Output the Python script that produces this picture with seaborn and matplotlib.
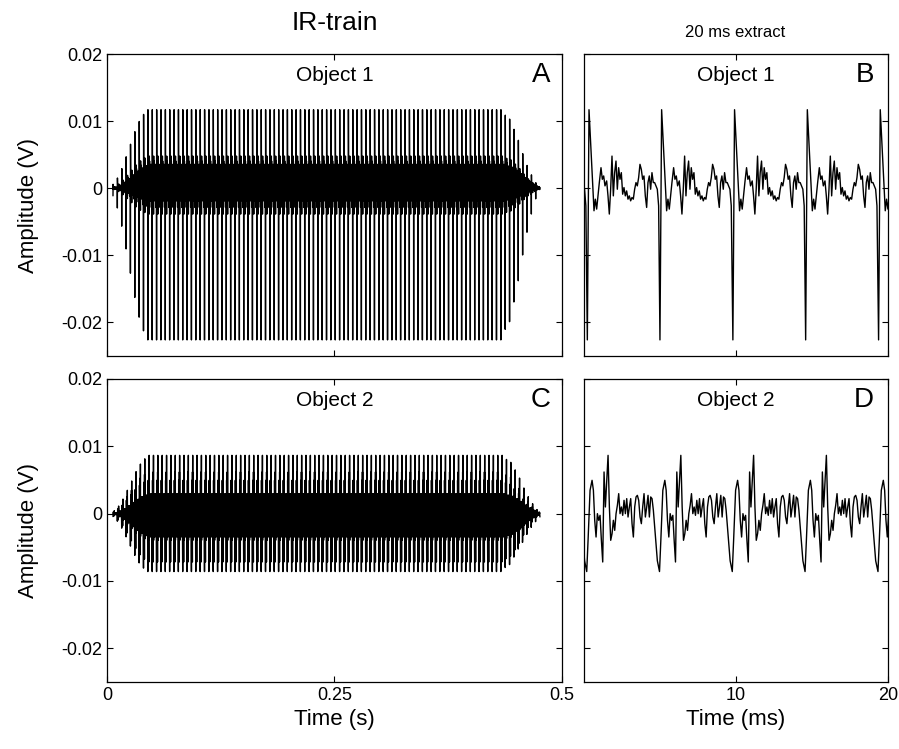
import matplotlib
matplotlib.use('Agg')
import matplotlib.pyplot as plt
import seaborn as sns
import numpy as np
import pandas as pd

# One period of each echo (ms after the negative spike / dip, amplitude in mV),
# read off the 20 ms extracts
obj1_dt_ms = [0.0, 0.11, 0.307, 0.439, 0.526, 0.614, 0.702, 0.789, 0.899, 0.987,
              1.075, 1.162, 1.272, 1.360, 1.447, 1.535, 1.623, 1.711, 1.798, 1.886,
              1.974, 2.061, 2.149, 2.237, 2.325, 2.412, 2.500, 2.588, 2.675, 2.763,
              2.851, 2.939, 3.026, 3.114, 3.202, 3.289, 3.377, 3.465, 3.553, 3.640,
              3.728, 3.816, 3.904, 3.991, 4.079, 4.167, 4.254, 4.342, 4.430, 4.518,
              4.605, 4.693]
obj1_mv = [-22.6, 11.7, 2.81, -3.36, -1.63, -3.11, -1.14, 0.84, 3.06, 1.33,
           1.83, 0.35, 1.09, -1.14, -3.85, -0.15, 4.79, -1.14, 2.32, 4.05,
           -0.15, 3.06, 1.33, 2.32, -0.89, 0.10, -1.14, -0.40, -1.63, -1.14,
           -1.88, -1.38, -1.63, -0.15, 0.84, 0.35, 1.58, 3.56, 2.81, 1.33,
           1.83, -1.14, -2.86, 0.84, 1.83, -0.15, 2.32, 0.84, 0.84, 0.35,
           -0.15, -2.62]

obj2_dt_ms = [0.0, 0.088, 0.219, 0.351, 0.439, 0.526, 0.614, 0.702, 0.789, 0.877,
              0.965, 1.053, 1.140, 1.228, 1.316, 1.404, 1.491, 1.579, 1.667, 1.754,
              1.842, 1.930, 2.018, 2.105, 2.193, 2.281, 2.368, 2.456, 2.544, 2.632,
              2.719, 2.807, 2.895, 2.982, 3.070, 3.158, 3.246, 3.333, 3.421, 3.509,
              3.596, 3.684, 3.772, 3.860, 3.947, 4.035, 4.123, 4.211, 4.298, 4.386,
              4.474, 4.561, 4.649]
obj2_mv = [-8.6, -3.96, 3.47, 4.95, 3.47, -0.99, -3.47, 0.0, -0.99, -0.25,
           -3.96, -7.18, 6.19, 0.99, 4.95, 8.66, 0.99, -3.96, -2.97, -0.99,
           -2.48, 0.0, 1.24, 2.97, 0.0, 0.99, -0.25, 1.98, 0.0, 2.23,
           -0.50, 0.99, 2.23, -1.49, -3.47, 0.99, 2.48, 2.72, 1.98, -0.50,
           -1.49, 0.99, 2.97, -0.50, 0.99, 2.72, -0.50, 2.48, 2.23, 0.50,
           -1.98, -4.5, -7.0]

# Pulse train (left panels)
first_pulse_s = 0.0066
pulse_period_ms = 4.79
onset_gain = [0.05, 0.13, 0.25, 0.40, 0.56, 0.72, 0.85, 0.94]
offset_gain = [0.93, 0.88, 0.75, 0.61, 0.44, 0.29, 0.17, 0.07]
n_full_pulses = 82

# Pulse onsets inside the 20 ms extract (ms)
obj1_extract_ms = [-4.57, 0.22, 5.00, 9.80, 14.59, 19.39]
obj2_extract_ms = [-4.61, 0.18, 4.97, 9.76, 14.55, 19.35]


def pulse_signal(onsets, gains, dt, mv):
    t, v = [], []
    for s, g in zip(onsets, gains):
        t.extend(s + np.array(dt))
        v.extend(g * np.array(mv) / 1000.0)
    return pd.DataFrame({'t': t, 'v': v})


gains = onset_gain + [1.0] * n_full_pulses + offset_gain
onsets_ms = first_pulse_s * 1000 + pulse_period_ms * np.arange(len(gains))

train1 = pulse_signal(onsets_ms, gains, obj1_dt_ms, obj1_mv)
train2 = pulse_signal(onsets_ms, gains, obj2_dt_ms, obj2_mv)
train1['t'] /= 1000.0
train2['t'] /= 1000.0
extract1 = pulse_signal(obj1_extract_ms, [1.0] * 6, obj1_dt_ms, obj1_mv)
extract2 = pulse_signal(obj2_extract_ms, [1.0] * 6, obj2_dt_ms, obj2_mv)

sns.set_theme(style='ticks')
plt.rcParams['font.family'] = ['Liberation Sans', 'DejaVu Sans']
plt.rcParams['xtick.direction'] = 'in'
plt.rcParams['ytick.direction'] = 'in'
for key in ['text.color', 'axes.labelcolor', 'xtick.color', 'ytick.color',
            'xtick.labelcolor', 'ytick.labelcolor', 'axes.edgecolor']:
    plt.rcParams[key] = 'black'

fig = plt.figure(figsize=(8.99, 7.49), dpi=100)
axA = fig.add_axes([0.119, 0.5247, 0.506, 0.4032])
axB = fig.add_axes([0.6496, 0.5247, 0.338, 0.4032])
axC = fig.add_axes([0.119, 0.0895, 0.506, 0.4045])
axD = fig.add_axes([0.6496, 0.0895, 0.338, 0.4045])

panels = [(axA, train1, 'Object 1', 'A'),
          (axB, extract1, 'Object 1', 'B'),
          (axC, train2, 'Object 2', 'C'),
          (axD, extract2, 'Object 2', 'D')]

for ax, df, name, letter in panels:
    sns.lineplot(data=df, x='t', y='v', ax=ax, color='black', lw=1.0,
                 estimator=None, sort=False)
    ax.set_ylim(-0.025, 0.02)
    ax.set_yticks([-0.02, -0.01, 0, 0.01, 0.02])
    ax.tick_params(top=True, right=True, labelsize=13, length=4, width=0.8,
                   color='black', labelcolor='black')
    for sp in ax.spines.values():
        sp.set_linewidth(0.9)
        sp.set_color('black')
    ax.set_xlabel('')
    ax.set_ylabel('')
    ax.text(0.5, 0.93, name, transform=ax.transAxes, ha='center', va='center',
            fontsize=15, color='black')
    ax.text(0.975 if ax in (axA, axC) else 0.955, 0.93, letter,
            transform=ax.transAxes, ha='right', va='center', fontsize=20,
            color='black')

for ax in (axA, axC):
    ax.set_xlim(0, 0.5)
    ax.set_xticks([0, 0.25, 0.5])
    ax.set_yticklabels(['-0.02', '-0.01', '0', '0.01', '0.02'])
    ax.set_ylabel('Amplitude (V)', fontsize=16, color='black')
    ax.yaxis.set_label_coords(-0.15, 0.5)

for ax in (axB, axD):
    ax.set_xlim(0, 20)
    ax.set_xticks([10, 20])
    ax.set_yticklabels([])

axA.set_xticklabels([])
axB.set_xticklabels([])
axC.set_xticklabels(['0', '0.25', '0.5'])
axD.set_xticklabels(['10', '20'])
axC.set_xlabel('Time (s)', fontsize=16, color='black')
axD.set_xlabel('Time (ms)', fontsize=16, color='black')

fig.text(0.3725, 0.969, 'IR-train', ha='center', va='center', fontsize=19,
         color='black')
fig.text(0.818, 0.957, '20 ms extract', ha='center', va='center', fontsize=12,
         color='black')

fig.savefig('out.png', dpi=100)
plt.close(fig)
